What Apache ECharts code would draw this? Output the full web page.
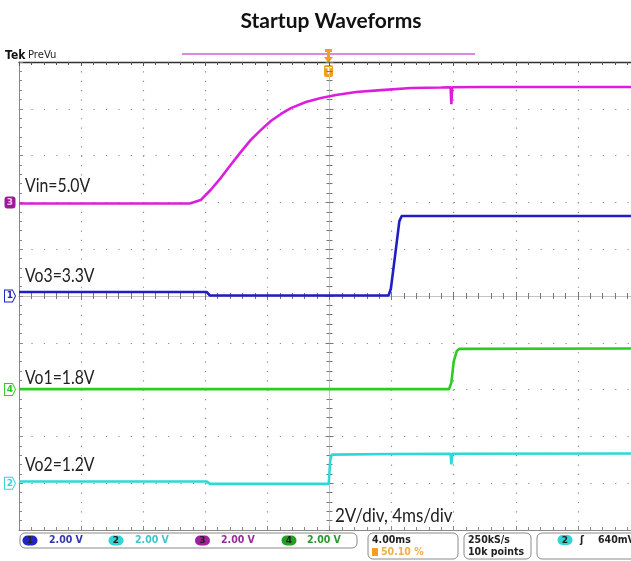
<!DOCTYPE html>
<html><head><meta charset="utf-8">
<script src="https://cdn.jsdelivr.net/npm/echarts@6/dist/echarts.min.js"></script>
<style>html,body{margin:0;padding:0;background:#fff}#c{width:631px;height:561px}</style>
</head><body><div id="c"></div>
<script>
// time in ms (trigger at 0), voltage in V relative to each channel's ground marker
const vinT = [-20, -9.0, -8.3, -7.66, -7.01, -6.37, -5.72, -5.07, -4.43, -3.78, -3.13, -2.49, -1.52, -0.55, 0.42, 1.71, 3.33, 5.27, 7.2, 7.8, 7.85, 7.9, 9.79, 20];
const vinV = [-0.05, -0.05, 0.1, 0.53, 1.04, 1.6, 2.15, 2.67, 3.09, 3.48, 3.78, 4.03, 4.29, 4.46, 4.59, 4.72, 4.80, 4.89, 4.91, 4.92, 4.2, 4.92, 4.93, 4.93];
const vo3T = [-20, -7.9, -7.7, 3.8, 3.95, 4.2, 4.5, 4.65, 20];
const vo3V = [0.17, 0.17, 0.02, 0.02, 0.3, 1.6, 3.2, 3.42, 3.42];
const vo1T = [-20, 7.7, 7.85, 8.0, 8.2, 8.35, 20];
const vo1V = [0.02, 0.02, 0.3, 1.2, 1.65, 1.74, 1.76];
const vo2T = [-20, -7.9, -7.7, -0.05, 0.05, 0.15, 4.0, 7.8, 7.85, 7.9, 20];
const vo2V = [0.07, 0.07, -0.03, -0.03, 1.0, 1.22, 1.25, 1.26, 0.8, 1.26, 1.27];

// vertical range (V) of each channel, set by its ground-marker position at 2 V/div
const vo3Range = [-10, 10];
const vinRange = [-14, 6];
const vo1Range = [-6, 14];
const vo2Range = [-2, 18];
const timeRange = [-20, 20];

const chNames = ['Vin=5.0V', 'Vo3=3.3V', 'Vo1=1.8V', 'Vo2=1.2V'];
const chScale = ['2.00 V', '2.00 V', '2.00 V', '2.00 V'];
const timeScale = '4.00ms';
const trigPos = '50.10 %';
const sampleRate = '250kS/s';
const recLen = '10k points';
const trigLevel = '640mV';

const zip = (t, v) => t.map((x, i) => [x, v[i]]);

const C = { vin: '#dc1edc', vo3: '#1e1ec4', vo1: '#2ecc22', vo2: '#2ed8d8' };
const arrow = 'path://M0,0 L8,0 L11,5.5 L8,11 L0,11 Z';

function gnd(num, color, filled) {
  return {
    symbol: filled ? 'roundRect' : arrow,
    symbolSize: [11, 12],
    symbolOffset: [-9, 0],
    silent: true,
    animation: false,
    itemStyle: filled ? { color: '#9a1a9a' } : { color: '#fff', borderColor: color, borderWidth: 1 },
    label: { show: true, formatter: num, color: filled ? '#f4c8f4' : color, fontSize: 9, fontWeight: 'bold', fontFamily: 'DejaVu Sans' },
    data: [{ coord: [-20, 0] }]
  };
}

const G = { left: 19, top: 62, width: 621, height: 468, containLabel: false, outerBoundsMode: 'none' };
const NGRID = 7;
const grids = Array.from({ length: NGRID }, () => Object.assign({}, G));

const noAxis = { axisLine: { show: false, onZero: false }, axisTick: { show: false }, axisLabel: { show: false }, splitLine: { show: false } };
const ticks = (color, inside) => ({
  axisTick: { show: true, inside: inside, length: 4, lineStyle: { color } },
  minorTick: { show: true, splitNumber: 5, length: 3, lineStyle: { color } },
  axisLabel: { show: false }
});
const X = (gi, extra) => Object.assign({ type: 'value', gridIndex: gi, min: timeRange[0], max: timeRange[1], interval: 4 }, noAxis, extra || {});
const Y = (gi, range, extra) => Object.assign({ type: 'value', gridIndex: gi, min: range[0], max: range[1], interval: 2 }, noAxis, extra || {});

const xAxes = [
  // 0: frame bottom + vertical dotted graticule
  X(0, Object.assign({ position: 'bottom', axisLine: { show: true, onZero: false, lineStyle: { color: '#888' } },
    splitLine: { show: true, lineStyle: { color: '#8c8c8c', width: 1.2, type: [1.2, 8.16] } } }, ticks('#888', true))),
  // 1: frame top
  X(1, Object.assign({ position: 'top', axisLine: { show: true, onZero: false, lineStyle: { color: '#333', width: 1.3 } } }, ticks('#555', true))),
  // 2,3: centre horizontal line with ticks on both sides
  X(2, Object.assign({ axisLine: { show: true, onZero: true, lineStyle: { color: '#c4c4c4' } } }, ticks('#777', true))),
  X(3, Object.assign({ axisLine: { show: true, onZero: true, lineStyle: { color: '#c4c4c4' } } }, ticks('#777', false))),
  X(4), X(5), X(6)
];
const yAxes = [
  Y(0, vo3Range, Object.assign({ position: 'left', axisLine: { show: true, onZero: false, lineStyle: { color: '#888' } },
    splitLine: { show: true, lineStyle: { color: '#8c8c8c', width: 1.2, type: [1.2, 11.22] } } }, ticks('#888', true))),
  Y(1, vo3Range),
  Y(2, vo3Range, Object.assign({ axisLine: { show: true, onZero: true, lineStyle: { color: '#c4c4c4' } } }, ticks('#777', true))),
  Y(3, vo3Range, Object.assign({ axisLine: { show: true, onZero: true, lineStyle: { color: '#c4c4c4' } } }, ticks('#777', false))),
  Y(4, vinRange), Y(5, vo1Range), Y(6, vo2Range)
];

const txt = (x, y, text, o, sx) => ({
  type: 'text', x, y, silent: true, scaleX: sx || 1,
  style: Object.assign({ text, fill: '#222', fontSize: 20, fontFamily: 'Lato, sans-serif', align: 'left', verticalAlign: 'middle' }, o || {})
});
const box = (x, y, w, h) => ({ type: 'rect', shape: { x, y, width: w, height: h, r: 5 }, style: { fill: '#fff', stroke: '#8a8a8a', lineWidth: 1 }, silent: true });
const pill = (cx, cy, color, num) => [
  { type: 'rect', shape: { x: cx - 7.5, y: cy - 5, width: 15, height: 10, r: 5 }, style: { fill: color }, silent: true },
  txt(cx, cy + 0.5, num, { fill: '#222', fontSize: 9, fontWeight: 'bold', fontFamily: 'DejaVu Sans', align: 'center' })
];
const stat = (x, y, text, color) => txt(x, y, text, { fill: color, fontSize: 10.5, fontWeight: 'bold', fontFamily: '"DejaVu Sans Condensed", "DejaVu Sans", sans-serif' });

const trace = (name, xi, t, v, color, mp) => ({
  name, type: 'line', xAxisIndex: xi, yAxisIndex: xi, data: zip(t, v), symbol: 'none',
  lineStyle: { color, width: 2.6 }, itemStyle: { color }, markPoint: mp
});

const chart = echarts.init(document.getElementById('c'), null, { renderer: 'canvas' });
chart.setOption({
  animation: false,
  backgroundColor: '#fff',
  grid: grids,
  xAxis: xAxes,
  yAxis: yAxes,
  series: [
    trace('Vin', 4, vinT, vinV, C.vin, gnd('3', C.vin, true)),
    trace('Vo3', 0, vo3T, vo3V, C.vo3, gnd('1', C.vo3, false)),
    trace('Vo1', 5, vo1T, vo1V, C.vo1, gnd('4', C.vo1, false)),
    trace('Vo2', 6, vo2T, vo2V, C.vo2, gnd('2', C.vo2, false))
  ],
  graphic: [
    txt(331, 21, 'Startup Waveforms', { fontSize: 21, fontWeight: 'bold', fontFamily: 'Lato, "Open Sans", sans-serif', align: 'center', fill: '#111' }),
    txt(5, 56, 'Tek', { fontSize: 12, fontWeight: 'bold', fontFamily: '"DejaVu Sans", sans-serif', fill: '#111' }, 0.9),
    txt(28, 55, 'PreVu', { fontSize: 10, fontFamily: '"DejaVu Sans", sans-serif', fill: '#222' }),
    { type: 'line', shape: { x1: 182, y1: 54, x2: 475, y2: 54 }, style: { stroke: '#dd88dd', lineWidth: 2 }, silent: true },
    { type: 'polygon', shape: { points: [[325, 49], [332, 49], [332, 52], [330, 52], [330, 57], [333, 57], [328.5, 63], [324, 57], [327, 57], [327, 52], [325, 52]] }, style: { fill: '#f0a020' }, silent: true },
    { type: 'rect', shape: { x: 324, y: 65, width: 9, height: 12, r: 2 }, style: { fill: '#f0a020' }, silent: true },
    txt(328.5, 71.5, 'T', { fontSize: 9, fontWeight: 'bold', fontFamily: 'DejaVu Sans', fill: '#fff', align: 'center' }),
    txt(25, 186, chNames[0], null, 0.79),
    txt(25, 275.5, chNames[1], null, 0.79),
    txt(25, 377.5, chNames[2], null, 0.79),
    txt(25, 464.5, chNames[3], null, 0.79),
    txt(335, 515.5, '2V/div, 4ms/div', null, 0.85),
    box(20, 533, 337, 15),
    ...pill(30, 540.5, '#2323c8', '1'),
    stat(49, 540.5, chScale[0], '#3535b0'),
    ...pill(116, 540.5, '#33d4d4', '2'),
    stat(135, 540.5, chScale[1], '#3cc8c8'),
    ...pill(202.5, 540.5, '#a020a0', '3'),
    stat(221, 540.5, chScale[2], '#9a2a9a'),
    ...pill(289, 540.5, '#22a022', '4'),
    stat(307, 540.5, chScale[3], '#2a9a2a'),
    box(368, 533, 90, 26),
    stat(372, 540.5, timeScale, '#222'),
    { type: 'rect', shape: { x: 372, y: 548, width: 6, height: 8 }, style: { fill: '#f0a020' }, silent: true },
    stat(381, 552.5, trigPos, '#f0b040'),
    box(464, 533, 67, 26),
    stat(468, 540.5, sampleRate, '#222'),
    stat(468, 552.5, recLen, '#222'),
    box(537, 533, 110, 26),
    ...pill(565, 540, '#33d4d4', '2'),
    stat(580, 540.5, 'ʃ', '#222'),
    stat(598, 540.5, trigLevel, '#222')
  ]
});
</script></body></html>
